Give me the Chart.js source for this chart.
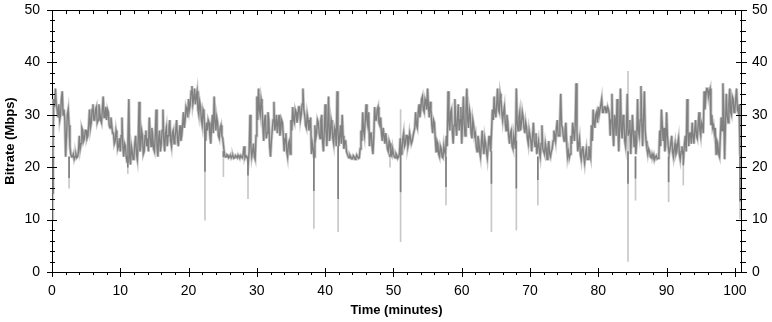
<!DOCTYPE html>
<html>
<head>
<meta charset="utf-8">
<script src="https://cdn.jsdelivr.net/npm/chart.js@4"></script>
<style>
  body { margin: 0; background: #fff; }
  canvas { display: block; }
</style>
</head>
<body>
<canvas id="chart" width="772" height="322"></canvas>
<script>
// sample spacing of the bitrate trace, in minutes
const STEP = 0.25;

// bitrate (Mbps), every 15 s, one row per minute
const bitrate = [
  22, 33, 35, 31,       32, 30, 34.5, 31,     22, 30, 28, 22.5,     22, 21.5, 22.5, 22,
  26, 24.5, 27, 25.5,   27, 26, 31, 28.5,     32, 29, 31.5, 29,     30.5, 28.5, 33.5, 30,
  29, 30.5, 27.5, 28,   26.5, 25, 26, 24,     23, 29.5, 22, 24,     21, 33, 20.5, 23,
  22, 26, 21.5, 32.5,   24, 26, 23, 27,       25.5, 29.5, 24, 26,   23, 31, 22, 27,
  24.5, 31, 23, 27.5,   26, 29, 24, 27,       25.5, 29, 24, 28,     26, 30.5, 29, 31,
  33, 32, 35.5, 33,     32, 34.5, 30, 31.5,   28, 30.5, 25, 27,     28.5, 24.5, 30, 33.5,
  27, 28.5, 25.5, 28,   25.5, 22.5, 22, 22.3, 22, 21.8, 22.2, 21.8, 22, 22.3, 21.7, 22,
  22.5, 21.8, 22, 21,   30, 22, 24.5, 21.5,   33.5, 35, 30, 32,     25, 30, 26.5, 29,
  22, 27, 32.5, 28,     26.5, 30, 27, 28.5,   23, 26.5, 22, 25,     29, 31.5, 28.5, 30.5,
  29.5, 31.5, 30, 35,   30, 27.5, 29, 28,     22.5, 23.5, 28, 26.5, 28.5, 25.5, 30, 23,
  32, 24, 33.5, 26,     28, 24.5, 27, 34.5,   24, 28, 30, 23.5,     25, 22.5, 21.8, 22,
  21.6, 22, 21.7, 22,   21.8, 27, 30.5, 26,   32, 28, 24, 26.5,     22.5, 31.5, 29, 31.5,
  28, 26.5, 27.5, 24.5, 25, 23, 24.5, 22.2,   22.5, 21.8, 22.3, 22, 25.5, 23.5, 26.5, 24.5,
  26, 24.8, 25.5, 25,   26, 30.5, 27.5, 32,   31, 33.5, 30.5, 32.5, 35, 29.5, 31, 26.5,
  28.5, 23, 24.5, 22,   23.5, 21.8, 23, 26,   34.5, 27, 31, 24.5,   33, 26, 32, 29,
  24.5, 33.5, 26, 35,   27.5, 30, 25.5, 28,   26.5, 23, 25, 22,     27, 22.5, 24.5, 21.8,
  26, 23, 31, 33.5,     29.5, 35, 30.5, 33,   29, 31.5, 27, 28.5,   24.5, 27, 23.5, 25,
  35, 27, 30.5, 28.5,   29.5, 26.5, 27.5, 24.5, 27, 23, 28.5, 24,   22.5, 25, 22, 28,
  23, 24.5, 21.5, 25,   22, 23.5, 27, 25,     29, 26, 34, 27.5,     25, 28.5, 22, 21.8,
  26, 28.5, 25, 36,     23, 25.5, 21.5, 24,   20.8, 23.5, 21.5, 22.5, 28, 31, 27.5, 30.5,
  31.5, 30, 33, 30.5,   31.5, 30.5, 31, 26,   34, 24, 29, 33,       23, 35, 25.5, 29,
  24, 34, 27, 22.5,     30, 24, 22.5, 33,     26, 35.5, 24, 34.5,   25, 22.5, 23, 21.8,
  22, 21.5, 22.2, 21.7, 27, 31, 25, 23,       30.5, 24, 22.5, 26,   22, 24.5, 23, 25.5,
  21.5, 24, 22, 26,     33, 24, 26.5, 28.5,   24.5, 29, 25.5, 30.5, 26, 28, 34.5, 33.5,
  35, 34.5, 28, 27.5,   26.5, 22.5, 24.5, 22, 29.5, 36, 21.5, 34,   28.5, 35, 30, 33,
  31, 35, 30.5, 22.5
];

// the reading half a step later (7.5 s after each sample above)
const bitrateMid = [
  23, 31.5, 32, 29.5,   29, 33, 30, 29,       26, 31, 24, 22,       22.5, 22, 21.8, 23,
  23.5, 27.5, 25, 27,   25.5, 28, 27.5, 31,   29, 31, 28.5, 32,     29, 31, 29.5, 31.5,
  31, 28, 29.5, 26.5,   24.5, 27, 23.5, 25.5, 26, 24, 24.5, 22,     25, 22, 24, 21.5,
  24.5, 22.5, 25, 23,   27, 22.5, 26, 24,     23, 26, 27.5, 23.5,   26, 24, 25.5, 23,
  27, 25, 26.5, 24,     27.5, 25, 26.5, 24.5, 27, 25.5, 26.5, 25,   28, 27.5, 31.5, 29.5,
  31, 34.5, 32, 35,     33.5, 31, 32.5, 29,   31, 27, 28.5, 29,     26, 28, 26.5, 29,
  29.5, 26, 27.5, 26,   24, 22, 22.4, 21.8,   22.3, 22.1, 21.7, 22.2, 21.8, 22, 22.2, 21.8,
  24, 22.2, 21.7, 23,   24, 23, 22, 26,       29, 31, 33, 28,       29, 25.5, 30.5, 24,
  25, 29, 27, 30,       28.5, 26, 29, 26,     25.5, 23, 24.5, 22.5, 27, 29, 31, 28.5,
  31.5, 29, 32, 31,     28, 30, 27, 29.5,     24.5, 22, 25.5, 29,   26.5, 29, 25, 27,
  27, 28, 25, 29,       25.5, 27.5, 24, 27,   26, 24.5, 26, 25,     23, 22, 22.3, 21.6,
  22.2, 21.5, 22.3, 21.7, 23.5, 25, 27, 29,   29, 30.5, 26.5, 24,   26, 29, 31, 28.5,
  29.5, 25, 26, 26.5,   23.5, 25, 22.5, 23.5, 22, 22.6, 21.7, 22.5, 22.5, 25.5, 24, 26,
  24, 26.5, 24.5, 26,   27.5, 28, 30.5, 29.5, 33, 31, 33, 31,       31.5, 32.5, 28, 29,
  25.5, 25, 22.5, 24,   22, 24, 22.5, 24,     29, 30.5, 27, 28,     28, 29.5, 27, 31.5,
  29, 28, 31, 29,       31, 26.5, 29, 26,     24, 26, 23, 24.5,     24, 25.5, 23, 24,
  24.5, 27, 29, 30.5,   32, 31, 34, 30.5,     30.5, 28.5, 30, 26,   26.5, 24, 26, 23.5,
  28.5, 29.5, 27, 30.5, 27.5, 28.5, 25.5, 27, 25, 26, 25, 26.5,     24, 23, 24.5, 23.5,
  22.5, 23.5, 23.5, 22.5, 23, 25, 26, 27.5,   26, 28.5, 28, 26,     27, 24.5, 23, 22.5,
  24.5, 27, 28, 27,     24.5, 22.5, 23.5, 22, 22.5, 21.5, 24, 21.8, 25, 28.5, 30, 28.5,
  30, 32, 30.5, 31.5,   30.5, 31.5, 30, 29,   27, 30, 26, 28,       28, 27, 30, 25,
  27.5, 26, 29, 26,     26.5, 27, 25, 27,     29, 28, 29.5, 27,     23.5, 23.5, 22, 22.5,
  22.4, 22, 21.6, 22.3, 24, 28, 27.5, 24.5,   26, 22.5, 24.5, 23,   23.5, 22.5, 24.5, 22.5,
  23, 22.5, 24.5, 23,   27, 26.5, 24.5, 26,   27, 26, 28, 27,       28.5, 26.5, 31, 35,
  33.5, 35, 30, 28,     27.5, 25, 22.5, 26,   27, 31, 28, 30,       32, 30.5, 33.5, 30.5,
  33, 31, 32, 21.5
];

// short drop-outs: time (min), level around them, lowest averaged value, lowest raw value
const dropTimes = [0.2, 2.5, 11.1, 22.4, 25.1, 28.7, 38.35, 41.9, 49.5, 51.05, 57.7, 64.35, 68.0, 71.15, 84.35, 85.45, 90.3, 92.45, 100.75];
const dropLevel = [22, 22, 22, 27, 23, 22, 23, 24, 22.5, 23, 22, 23, 25, 22, 23, 22, 22, 22, 22];
const dropAvg   = [15, 18, 20, 19.2, 22, 18.5, 15.5, 14, 22, 15.3, 16.3, 16.9, 16, 17.6, 16.9, 17.9, 17.2, 20.4, 13.5];
const dropRaw   = [10, 16, 18.8, 9.9, 18.2, 14, 8.3, 7.7, 20, 5.8, 12.8, 7.7, 8, 12.8, 2, 13.7, 13.4, 16.6, 10.2];
const dropPeak  = [22, 22, 22, 27, 23, 22, 23, 24, 22.5, 31, 22, 23, 35, 22, 38.3, 22, 22, 22, 22];

const X_MAX = 100.9;
const Y_MAX = 50;

const trace = [];
bitrate.forEach((v, i) => {
  trace.push({ x: i * STEP, y: v });
  trace.push({ x: i * STEP + STEP / 2, y: bitrateMid[i] });
});
const rawDrops = dropTimes.map((t, i) => ({ x: t, y: [dropRaw[i], dropPeak[i]] }));
const avgDrops = dropTimes.map((t, i) => ({ x: t, y: [dropAvg[i], dropLevel[i]] }));

const DARK = '#808080';
const LIGHT = '#c8c8c8';
const FONT = '"Liberation Sans", Arial, sans-serif';

// tick marks on all four sides of the frame, majors crossing the line
const frameTicks = {
  id: 'frameTicks',
  afterDraw(chart) {
    const { ctx, chartArea: a, scales: { x, y } } = chart;
    ctx.save();
    ctx.strokeStyle = '#000';
    ctx.lineWidth = 1;
    ctx.beginPath();
    ctx.moveTo(a.left, a.top + 0.5);
    ctx.lineTo(a.right + 1, a.top + 0.5);
    for (let v = 0; v <= X_MAX; v += 2) {
      const px = Math.round(x.getPixelForValue(v)) + 0.5;
      const major = v % 10 === 0;
      ctx.moveTo(px, a.bottom - (major ? 4 : 0));
      ctx.lineTo(px, a.bottom + (major ? 5 : 3));
      ctx.moveTo(px, a.top);
      ctx.lineTo(px, a.top + (major ? 5 : 4));
    }
    for (let v = 0; v <= Y_MAX; v += 2) {
      const py = Math.round(y.getPixelForValue(v)) + 0.5;
      const major = v % 10 === 0;
      ctx.moveTo(a.left - (major ? 5 : 2), py);
      ctx.lineTo(a.left + (major ? 5 : 3), py);
      ctx.moveTo(a.right - (major ? 5 : 1), py);
      ctx.lineTo(a.right + (major ? 6 : 5), py);
    }
    ctx.stroke();
    ctx.restore();
  }
};

new Chart(document.getElementById('chart'), {
  type: 'line',
  data: {
    datasets: [
      { data: trace, borderColor: DARK, borderWidth: 1.4, pointRadius: 0, tension: 0 },
      { type: 'bar', data: avgDrops, backgroundColor: DARK, barThickness: 1, grouped: false },
      { type: 'bar', data: rawDrops, backgroundColor: LIGHT, barThickness: 1, grouped: false },
      { data: trace, borderColor: LIGHT, borderWidth: 3, pointRadius: 0, tension: 0 }
    ]
  },
  options: {
    responsive: false,
    animation: false,
    devicePixelRatio: 1,
    layout: { padding: 0 },
    plugins: { legend: { display: false }, tooltip: { enabled: false } },
    scales: {
      x: {
        type: 'linear',
        min: 0,
        max: X_MAX,
        offset: false,
        grid: { display: false },
        border: { display: true, color: '#000' },
        ticks: { stepSize: 10, includeBounds: false, maxRotation: 0, padding: 3, color: '#000', font: { family: FONT, size: 14 } },
        title: { display: true, text: 'Time (minutes)', color: '#000', padding: { top: 0, bottom: 4 }, font: { family: FONT, size: 13, weight: 'bold' } },
        afterFit(scale) { scale.height = 50; scale.paddingLeft = 0; scale.paddingRight = 0; }
      },
      y: {
        min: 0,
        max: Y_MAX,
        grid: { display: false },
        border: { display: true, color: '#000' },
        ticks: { stepSize: 10, padding: 4, color: '#000', font: { family: FONT, size: 14 } },
        title: { display: true, text: 'Bitrate (Mbps)', color: '#000', padding: { top: 3, bottom: 0 }, font: { family: FONT, size: 13, weight: 'bold' } },
        afterFit(scale) { scale.width = 52; scale.paddingTop = 10; scale.paddingBottom = 0; }
      },
      y2: {
        position: 'right',
        min: 0,
        max: Y_MAX,
        grid: { display: false },
        border: { display: true, color: '#000' },
        ticks: { stepSize: 10, padding: 3, color: '#000', font: { family: FONT, size: 14 } },
        afterFit(scale) { scale.width = 31; scale.paddingTop = 10; scale.paddingBottom = 0; }
      }
    }
  },
  plugins: [frameTicks]
});
</script>
</body>
</html>
